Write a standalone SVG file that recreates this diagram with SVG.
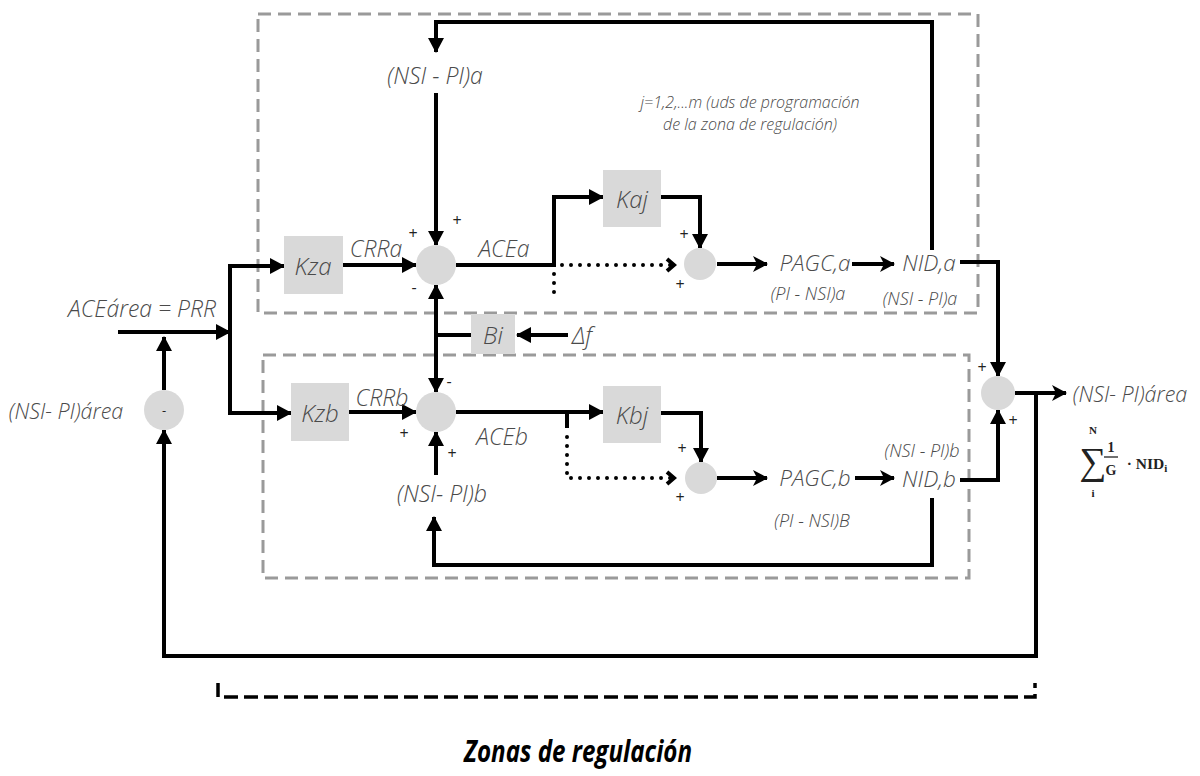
<svg xmlns="http://www.w3.org/2000/svg" width="1200" height="776" viewBox="0 0 1200 776">
  <style>
    .zone { fill: none; stroke: #9a9a9a; stroke-width: 3; stroke-dasharray: 13 7; }
    .blk { fill: #d9d9d9; stroke: none; }
    .sum { fill: #d9d9d9; stroke: none; }
    .ln { fill: none; stroke: #000; stroke-width: 4; stroke-linejoin: miter; }
    .arr { marker-end: url(#tri); }
    .arr2 { marker-end: url(#notch); }
    .dot { fill: none; stroke: #000; stroke-width: 4; stroke-linecap: round; stroke-dasharray: 0 9; }
    .lbl { font-family: "Open Sans", "Liberation Sans", sans-serif; font-style: italic; font-weight: 300; fill: #4a4a4a; text-anchor: middle; dominant-baseline: central; }
    .blkt { font-size: 24px; }
    .big { font-size: 22.5px; }
    .mid { font-size: 23px; }
    .sml { font-size: 18px; }
    .note { font-size: 16px; }
    .sgn { font-family: "Open Sans", "Liberation Sans", sans-serif; font-size: 16px; fill: #222; text-anchor: middle; dominant-baseline: central; }
    .math { font-family: "Liberation Serif", "DejaVu Serif", serif; font-weight: bold; fill: #222; text-anchor: middle; }
  </style>
  <defs>
    <marker id="tri" markerUnits="userSpaceOnUse" markerWidth="15" markerHeight="16" refX="14" refY="8" orient="auto-start-reverse" viewBox="0 0 15 16">
      <path d="M0,0 L15,8 L0,16 z" fill="#000"/>
    </marker>
    <marker id="notch" markerUnits="userSpaceOnUse" markerWidth="16" markerHeight="16" refX="15" refY="8" orient="auto" viewBox="0 0 16 16">
      <path d="M1,0 L16,8 L1,16 L5,8 z" fill="#000"/>
    </marker>
    <marker id="chev" markerUnits="userSpaceOnUse" markerWidth="12" markerHeight="16" refX="9" refY="8" orient="auto" viewBox="0 0 12 16">
      <path d="M2,2 L9,8 L2,14" fill="none" stroke="#000" stroke-width="4"/>
    </marker>
  </defs>

  <!-- regulation zones -->
  <g id="zone-a"><rect class="zone" x="258" y="14" width="720" height="299"/></g>
  <g id="zone-b"><rect class="zone" x="263" y="355" width="706" height="223"/></g>

  <!-- connectors -->
  <g id="connectors">
    <!-- area input and split -->
    <path class="ln arr" d="M118,332 H230"/>
    <path class="ln" d="M230,266 V414"/>
    <path class="ln arr" d="M228,266 H284"/>
    <path class="ln arr" d="M228,413 H291"/>
    <!-- zone a -->
    <path class="ln arr" d="M343,265 H416"/>
    <path class="ln arr" d="M932,250 V22 H436 V52"/>
    <path class="ln arr" d="M436,93 V245"/>
    <path class="ln" d="M456,265 H554"/>
    <path class="ln arr" d="M554,267 V197 H603"/>
    <path class="dot" d="M562,265 H674" marker-end="url(#chev)"/>
    <path class="dot" d="M554,274 V300"/>
    <path class="ln arr" d="M661,197 H700 V248"/>
    <path class="ln arr2" d="M717,264 H767"/>
    <path class="ln arr2" d="M852,264 H894"/>
    <path class="ln arr" d="M960,262 H998 V376"/>
    <!-- frequency bias -->
    <path class="ln arr" d="M436,313 V285"/>
    <path class="ln arr" d="M436,313 V392"/>
    <path class="ln" d="M436,335 H471"/>
    <path class="ln arr" d="M568,335 H517"/>
    <!-- zone b -->
    <path class="ln arr" d="M349,412 H416"/>
    <path class="ln arr" d="M456,412 H603"/>
    <path class="ln" d="M567,412 V428"/>
    <path class="dot" d="M567,437 V478 H674" marker-end="url(#chev)"/>
    <path class="ln arr" d="M661,413 H701 V462"/>
    <path class="ln arr2" d="M717,478 H767"/>
    <path class="ln arr2" d="M855,478 H894"/>
    <path class="ln arr" d="M960,480 H998 V410"/>
    <path class="ln arr" d="M932,498 V565 H434 V517"/>
    <path class="ln arr" d="M436,475 V432"/>
    <!-- area total and feedback -->
    <path class="ln arr2" d="M1015,393 H1066"/>
    <path class="ln arr" d="M1036,393 V656 H164 V430"/>
    <path class="ln arr" d="M164,390 V337"/>
  </g>

  <!-- bracket under the zones -->
  <g id="bracket">
    <path d="M218,683 V697 H1035 V683" fill="none" stroke="#000" stroke-width="3.5" stroke-dasharray="14 6"/>
  </g>

  <!-- blocks -->
  <g id="kza"><rect class="blk" x="284" y="236" width="59" height="58"/><text class="lbl blkt" x="313" y="265">Kza</text></g>
  <g id="kzb"><rect class="blk" x="291" y="383" width="58" height="58"/><text class="lbl blkt" x="320" y="412">Kzb</text></g>
  <g id="kaj"><rect class="blk" x="603" y="170" width="58" height="57"/><text class="lbl blkt" x="632" y="198">Kaj</text></g>
  <g id="kbj"><rect class="blk" x="603" y="386" width="58" height="57"/><text class="lbl blkt" x="632" y="414">Kbj</text></g>
  <g id="bi"><rect class="blk" x="471" y="314" width="44" height="40"/><text class="lbl blkt" x="493" y="334">Bi</text></g>

  <!-- summing junctions -->
  <g id="sum-a"><circle class="sum" cx="436" cy="265" r="20"/>
    <text class="sgn" x="413" y="233">+</text><text class="sgn" x="457" y="220">+</text><text class="sgn" x="414" y="287">-</text></g>
  <g id="sum-b"><circle class="sum" cx="436" cy="412" r="20"/>
    <text class="sgn" x="449" y="381">-</text><text class="sgn" x="404" y="433">+</text><text class="sgn" x="452" y="453">+</text></g>
  <g id="sum-aj"><circle class="sum" cx="700" cy="264" r="16"/>
    <text class="sgn" x="684" y="234">+</text><text class="sgn" x="680" y="284">+</text></g>
  <g id="sum-bj"><circle class="sum" cx="701" cy="478" r="16"/>
    <text class="sgn" x="682" y="448">+</text><text class="sgn" x="680" y="497">+</text></g>
  <g id="sum-area"><circle class="sum" cx="998" cy="393" r="17"/>
    <text class="sgn" x="982" y="367">+</text><text class="sgn" x="1013" y="420">+</text></g>
  <g id="diff-area"><circle class="sum" cx="164" cy="410" r="20"/>
    <text class="sgn" x="164" y="410" style="font-size:13px">-</text></g>

  <!-- signal labels -->
  <g id="labels">
    <text class="lbl mid" x="435" y="75">(NSI - PI)a</text>
    <text class="lbl note" x="750" y="102">j=1,2,...m (uds de programación</text>
    <text class="lbl note" x="750" y="124">de la zona de regulación)</text>
    <text class="lbl mid" x="376" y="248">CRRa</text>
    <text class="lbl mid" x="504" y="248">ACEa</text>
    <text class="lbl big" x="815" y="262">PAGC,a</text>
    <text class="lbl big" x="929" y="262">NID,a</text>
    <text class="lbl sml" x="808" y="293">(PI - NSI)a</text>
    <text class="lbl sml" x="920" y="298">(NSI - PI)a</text>
    <text class="lbl mid" x="142" y="308">ACEárea = PRR</text>
    <text class="lbl blkt" x="582" y="334">Δf</text>
    <text class="lbl" style="font-size:21.5px" x="66" y="410">(NSI- PI)área</text>
    <text class="lbl mid" x="382" y="397">CRRb</text>
    <text class="lbl mid" x="502" y="436">ACEb</text>
    <text class="lbl big" x="815" y="477">PAGC,b</text>
    <text class="lbl big" x="929" y="478">NID,b</text>
    <text class="lbl sml" x="922" y="450">(NSI - PI)b</text>
    <text class="lbl sml" x="812" y="520">(PI - NSI)B</text>
    <text class="lbl mid" x="442" y="493">(NSI- PI)b</text>
    <text class="lbl" style="font-size:21.5px" x="1130" y="393">(NSI- PI)área</text>
  </g>

  <!-- weighted sum expression -->
  <g id="formula">
    <text class="math" x="1093" y="474" style="font-size:38px;font-weight:normal">∑</text>
    <text class="math" x="1093" y="434" style="font-size:11px">N</text>
    <text class="math" x="1093" y="497" style="font-size:11px">i</text>
    <text class="math" x="1111" y="452" style="font-size:14px">1</text>
    <line x1="1104" y1="457" x2="1118" y2="457" stroke="#222" stroke-width="1.3"/>
    <text class="math" x="1111" y="475" style="font-size:14px">G</text>
    <text class="math" x="1147" y="469" style="font-size:15.5px">· NID<tspan style="font-size:11px" dy="3">i</tspan></text>
  </g>

  <!-- caption -->
  <g id="caption">
    <text x="578" y="762" text-anchor="middle" font-family="Open Sans, Liberation Sans, sans-serif" font-style="italic" font-weight="bold" font-size="30" fill="#000" textLength="228" lengthAdjust="spacingAndGlyphs">Zonas de regulación</text>
  </g>
</svg>
